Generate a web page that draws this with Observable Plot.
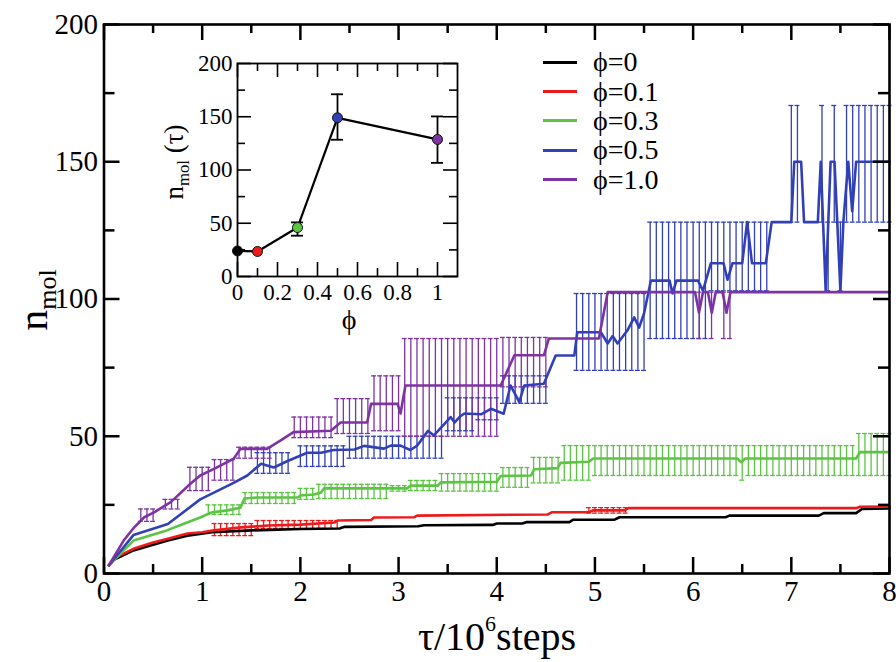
<!DOCTYPE html>
<html><head><meta charset="utf-8">
<script src="https://cdn.jsdelivr.net/npm/d3@7"></script>
<script src="https://cdn.jsdelivr.net/npm/@observablehq/plot@0.6"></script>
<style>
body{margin:0;background:#fff;}
#wrap{position:relative;width:896px;height:662px;overflow:hidden;font-family:"Liberation Serif","Times New Roman","DejaVu Serif",serif;color:#000;}
#wrap > svg{position:absolute;}
#wrap svg text{font-family:"Liberation Serif","Times New Roman","DejaVu Serif",serif;}
.lbl{position:absolute;white-space:nowrap;line-height:1.2;padding:4px;}
.lbl sub{font-size:0.62em;vertical-align:-0.35em;}
.lbl sup{font-size:0.55em;vertical-align:0.85em;}
.leg{position:absolute;left:543px;height:30px;display:flex;align-items:center;font-size:28px;line-height:30px;}
.leg span.sw{display:inline-block;width:34px;height:3px;margin-right:16px;}
</style></head><body><div id="wrap"></div>
<script>
// ---------- data ----------
const seriesNames = ["ϕ=0", "ϕ=0.1", "ϕ=0.3", "ϕ=0.5", "ϕ=1.0"];
const seriesColors = ["#000000", "#ee1a1a", "#5cc443", "#3140b6", "#7f33a3"];

// main curves: [tau/10^6 steps, n_mol]
const phi0Line = [[0.05,3],[0.1,5],[0.3,8.4],[0.5,10.5],[0.65,12],[0.85,13.8],[1.1,15],[1.5,15.7],[2.0,16.2],[2.4,16.4],[2.45,17],[3.2,17.2],[3.26,17.6],[3.96,17.7],[4.0,18.2],[4.26,18.2],[4.3,18.7],[4.74,18.7],[4.78,19.6],[5.2,19.6],[5.25,20.5],[6.33,20.5],[6.37,21.1],[7.28,21.1],[7.33,22],[7.66,22],[7.72,23.5],[8,23.7]];
const phi01Line = [[0.05,3],[0.1,5.5],[0.3,9],[0.5,11.3],[0.65,12.7],[0.85,14.6],[1.0,15],[1.12,15.7],[1.4,16.8],[1.67,17.5],[2.0,17.8],[2.35,18.6],[2.38,19.3],[2.72,19.5],[2.75,20.4],[3.16,20.5],[3.19,21.1],[4.52,21.5],[4.56,22.3],[4.94,22.3],[4.98,23],[5.3,23],[5.34,23.8],[7.66,23.8],[7.7,24.3],[8,24.4]];
const phi03Line = [[0.05,3],[0.3,12],[0.64,15.7],[0.82,18.2],[0.98,20.4],[1.09,22.2],[1.26,23],[1.39,24],[1.43,27.3],[1.56,27.7],[1.97,27.7],[2.0,28.4],[2.14,28.8],[2.21,29.5],[2.24,31],[3.09,31],[3.12,32],[3.4,32],[3.43,33.2],[4.0,33.4],[4.04,35.5],[4.35,35.7],[4.38,38],[4.62,38.4],[4.65,40.3],[4.94,40.7],[4.98,41.9],[6.45,41.9],[6.49,40.5],[6.53,41.9],[7.66,41.9],[7.7,44.2],[8,44.2]];
const phi05Line = [[0.05,3],[0.3,14],[0.65,18],[0.98,27],[1.32,33],[1.46,35.7],[1.6,40],[1.73,38.6],[1.87,41],[2.07,44],[2.21,44],[2.34,45],[2.55,45.2],[2.65,46.5],[2.85,45.5],[2.92,46.6],[3.02,46.6],[3.12,45],[3.19,46.6],[3.25,49.5],[3.3,52],[3.36,50.3],[3.47,54.6],[3.53,57],[3.57,55],[3.62,57],[3.67,58.3],[3.84,58],[3.94,60],[4.07,58.2],[4.14,68.5],[4.23,62.4],[4.28,68.5],[4.48,69.1],[4.6,79.4],[4.79,79.4],[4.82,87.9],[5.06,87.9],[5.13,83.8],[5.18,86.5],[5.23,83.8],[5.33,88.5],[5.4,93.3],[5.45,89.6],[5.5,94.7],[5.57,106.7],[5.76,106.7],[5.79,102],[5.83,106.7],[6.05,106.7],[6.1,103],[6.18,113],[6.31,113],[6.35,107],[6.4,113],[6.5,113],[6.55,128],[6.6,113],[6.74,113],[6.8,128],[7.0,128],[7.03,150],[7.1,150],[7.13,128],[7.27,128],[7.3,150],[7.35,103],[7.4,150],[7.44,150],[7.5,103],[7.53,128],[7.58,150],[7.62,132],[7.66,150],[8,150]];
const phi10Line = [[0.05,3],[0.2,12],[0.3,16.5],[0.41,20.5],[0.51,22.3],[0.68,26],[0.88,32.7],[0.98,35.7],[1.12,38.1],[1.32,41.8],[1.39,45.4],[1.66,45.4],[1.8,48.5],[1.93,51.5],[2.31,52],[2.41,55],[2.68,55],[2.72,61.8],[2.99,61.8],[3.02,58.3],[3.07,68.5],[4.04,68.5],[4.18,79.5],[4.48,79.5],[4.53,85.6],[5.04,85.6],[5.13,102.5],[6.02,102.5],[6.06,95],[6.1,102.5],[6.15,102.5],[6.19,95],[6.23,102.5],[6.3,102.5],[6.34,95],[6.38,102.5],[8,102.5]];

// error-bar stretches: [from tau, to tau, lower n_mol, upper n_mol]; bars sit on the sampling times
const barStep = 0.0625;
const phi0Bars = [];
const phi01Bars = [[1.125,1.5,13.8,18.2],[1.5625,2.375,16.4,19.3],[4.9375,5.3125,22,24]];
const phi03Bars = [[1.0625,1.375,21.5,25],[1.4375,1.9375,25.5,29.5],[2.0,2.125,27,31],[2.1875,2.875,27.3,32.5],[2.9375,3.0625,30,32],[3.125,3.375,30.2,33.9],[3.4375,4.0,30,36.4],[4.0625,4.3125,31.4,38.6],[4.375,4.625,33,42.3],[4.6875,4.9375,34,46.6],[5.0,6.4375,35.7,46.6],[6.5,6.5,34,46.6],[6.5625,7.625,35.7,46.6],[7.6875,8.0,35.7,51]];
const phi05Bars = [[1.5625,1.875,36.5,44],[2.0,2.4375,39,46.5],[2.5,3.4375,42,50],[3.5,3.75,52,64],[3.8125,4.0,56,64],[4.0625,4.5,62,72],[4.8125,5.5,74,102],[5.5625,6.125,85.6,128],[6.1875,6.75,103,128],[7.0,7.0625,128,170.5],[7.3125,7.3125,128,170.5],[7.375,7.375,103,128],[7.4375,7.4375,128,170.5],[7.5,7.5,103,128],[7.5625,7.625,128,170.5],[7.6875,8.0,128,170.5]];
const phi10Bars = [[0.375,0.5,19,23.5],[0.625,0.75,23.5,27],[0.875,1.0625,30.2,38.7],[1.125,1.3125,34,41.5],[1.375,1.6875,42,46],[1.9375,2.3125,49.5,57],[2.375,2.6875,51,63.7],[2.75,3.0,52,72],[3.0625,4.0,50,85.6],[4.0625,4.5,68,86],[6.0625,6.0625,85.6,102.5],[6.1875,6.1875,85.6,102.5],[6.3125,6.375,85.6,102.5]];

// tick values
const xMajor = [0,1,2,3,4,5,6,7,8];
const xMinor = [0.5,1.5,2.5,3.5,4.5,5.5,6.5,7.5];
const yMajor = [0,50,100,150,200];
const yMinor = [25,75,125,175];

// inset: n_mol(tau) versus phi
const insetPhi = [0, 0.1, 0.3, 0.5, 1.0];
const insetN = [24, 23.5, 46, 149, 128.7];
const insetLo = [24, 23.5, 38.3, 128.4, 106.7];
const insetHi = [24, 23.5, 50.8, 171.1, 150.3];
const insetXMajor = [0, 0.2, 0.4, 0.6, 0.8, 1];
const insetXLabels = ["0", "0.2", "0.4", "0.6", "0.8", "1"];
const insetXMinor = [0.1, 0.3, 0.5, 0.7, 0.9];
const insetYMajor = [0, 50, 100, 150, 200];
const insetYMinor = [25, 75, 125, 175];

// ---------- build ----------
const lines = [phi0Line, phi01Line, phi03Line, phi05Line, phi10Line];
const bars = [phi0Bars, phi01Bars, phi03Bars, phi05Bars, phi10Bars];
const lineRows = lines.flatMap((pts, i) => pts.map(([x, y]) => ({x, y, name: seriesNames[i]})));
const barRows = bars.flatMap((segs, i) => segs.flatMap(([x0, x1, lo, hi]) => {
  const out = [];
  const k0 = Math.ceil(x0 / barStep - 1e-6), k1 = Math.floor(x1 / barStep + 1e-6);
  for (let k = k0; k <= k1; k++) out.push({x: k * barStep, lo, hi, name: seriesNames[i]});
  return out;
}));
const capRows = barRows.flatMap(d => [{x: d.x, y: d.lo, name: d.name}, {x: d.x, y: d.hi, name: d.name}]);

const FONT = "'Liberation Serif','Times New Roman','DejaVu Serif',serif";
const W = 896, H = 662, mL = 103.5, mR = 7, mT = 24, mB = 89;
const fw = W - mL - mR, fh = H - mT - mB;
const colorOpts = {domain: seriesNames, range: seriesColors};
const main = Plot.plot({
  width: W, height: H, marginLeft: mL, marginRight: mR, marginTop: mT, marginBottom: mB,
  x: {domain: [0, 8], ticks: xMajor, tickSize: 0, tickPadding: 7, label: null},
  y: {domain: [0, 200], ticks: yMajor, tickSize: 0, tickPadding: 6, label: null},
  color: colorOpts,
  style: {fontFamily: FONT, fontSize: "29px", color: "#000", background: "transparent", overflow: "visible"},
  marks: [
    Plot.ruleX(barRows, {x: "x", y1: "lo", y2: "hi", stroke: "name", strokeWidth: 1.3}),
    Plot.ruleY(capRows, {y: "y", x1: d => d.x - 0.025, x2: d => d.x + 0.025, stroke: "name", strokeWidth: 1.3}),
    Plot.line(lineRows, {x: "x", y: "y", z: "name", stroke: "name", strokeWidth: 2.6}),
    Plot.tickX(xMajor, {x: d => d, insetTop: fh - 16, strokeWidth: 2.5}),
    Plot.tickX(xMinor, {x: d => d, insetTop: fh - 9, strokeWidth: 2.5}),
    Plot.tickX(xMajor, {x: d => d, insetBottom: fh - 16, strokeWidth: 2.5}),
    Plot.tickX(xMinor, {x: d => d, insetBottom: fh - 9, strokeWidth: 2.5}),
    Plot.tickY(yMajor, {y: d => d, insetRight: fw - 16, strokeWidth: 2.5}),
    Plot.tickY(yMinor, {y: d => d, insetRight: fw - 11, strokeWidth: 2.5}),
    Plot.tickY(yMajor, {y: d => d, insetLeft: fw - 16, strokeWidth: 2.5}),
    Plot.tickY(yMinor, {y: d => d, insetLeft: fw - 11, strokeWidth: 2.5}),
    Plot.frame({strokeWidth: 2.6})
  ]
});
main.style.left = "0px"; main.style.top = "0px";

const insetRows = insetPhi.map((phi, i) => ({phi, n: insetN[i], lo: insetLo[i], hi: insetHi[i], name: seriesNames[i]}));
const insetBarRows = insetRows.filter(d => d.hi > d.lo);
const insetCapRows = insetBarRows.flatMap(d => [{phi: d.phi, y: d.lo}, {phi: d.phi, y: d.hi}]);
const iw = 320, ih = 290, iL = 87, iR = 13, iT = 13, iB = 64;
const ifw = iw - iL - iR, ifh = ih - iT - iB;
const inset = Plot.plot({
  width: iw, height: ih, marginLeft: iL, marginRight: iR, marginTop: iT, marginBottom: iB,
  x: {domain: [0, 1.1], ticks: insetXMajor, tickSize: 0, tickPadding: 7, label: null,
      tickFormat: d => insetXLabels[insetXMajor.indexOf(d)]},
  y: {domain: [0, 200], ticks: insetYMajor, tickSize: 0, tickPadding: 5, label: null},
  color: colorOpts,
  style: {fontFamily: FONT, fontSize: "23px", color: "#000", background: "transparent", overflow: "visible"},
  marks: [
    Plot.tickX(insetXMajor, {x: d => d, insetTop: ifh - 14, strokeWidth: 1.6}),
    Plot.tickX(insetXMinor, {x: d => d, insetTop: ifh - 8, strokeWidth: 1.6}),
    Plot.tickX(insetXMajor, {x: d => d, insetBottom: ifh - 14, strokeWidth: 1.6}),
    Plot.tickX(insetXMinor, {x: d => d, insetBottom: ifh - 8, strokeWidth: 1.6}),
    Plot.tickY(insetYMajor, {y: d => d, insetRight: ifw - 14, strokeWidth: 1.6}),
    Plot.tickY(insetYMinor, {y: d => d, insetRight: ifw - 8, strokeWidth: 1.6}),
    Plot.tickY(insetYMajor, {y: d => d, insetLeft: ifw - 14, strokeWidth: 1.6}),
    Plot.tickY(insetYMinor, {y: d => d, insetLeft: ifw - 8, strokeWidth: 1.6}),
    Plot.frame({strokeWidth: 1.8}),
    Plot.ruleX(insetBarRows, {x: "phi", y1: "lo", y2: "hi", strokeWidth: 1.8}),
    Plot.ruleY(insetCapRows, {y: "y", x1: d => d.phi - 0.03, x2: d => d.phi + 0.03, strokeWidth: 1.8}),
    Plot.line(insetRows, {x: "phi", y: "n", stroke: "black", strokeWidth: 2.2}),
    Plot.dot(insetRows, {x: "phi", y: "n", fill: "name", r: 5, stroke: "#111", strokeWidth: 1})
  ]
});
inset.style.left = "150px"; inset.style.top = "50px";

const wrap = document.getElementById("wrap");
wrap.appendChild(main);
wrap.appendChild(inset);

// legend
const legTops = [62, 91.5, 120.5, 150, 179.5];
seriesNames.forEach((name, i) => {
  const row = document.createElement("div");
  row.className = "leg";
  row.style.top = (legTops[i] - 15) + "px";
  const sw = document.createElement("span");
  sw.className = "sw"; sw.style.background = seriesColors[i];
  row.appendChild(sw);
  row.appendChild(document.createTextNode(name));
  wrap.appendChild(row);
});

// axis titles
function addLabel(html, cx, cy, size, rotate) {
  const d = document.createElement("div");
  d.className = "lbl";
  d.innerHTML = html;
  d.style.fontSize = size + "px";
  d.style.left = cx + "px"; d.style.top = cy + "px";
  d.style.transform = "translate(-50%,-50%)" + (rotate ? " rotate(-90deg)" : "");
  wrap.appendChild(d);
}
addLabel("n<sub>mol</sub>", 36, 300, 42, true);
addLabel("τ/10<sup>6</sup>steps", 497, 636, 40, false);
addLabel("n<sub>mol</sub> (τ)", 176, 162, 27, true);
addLabel("ϕ", 349, 320, 28, false);
</script></body></html>
